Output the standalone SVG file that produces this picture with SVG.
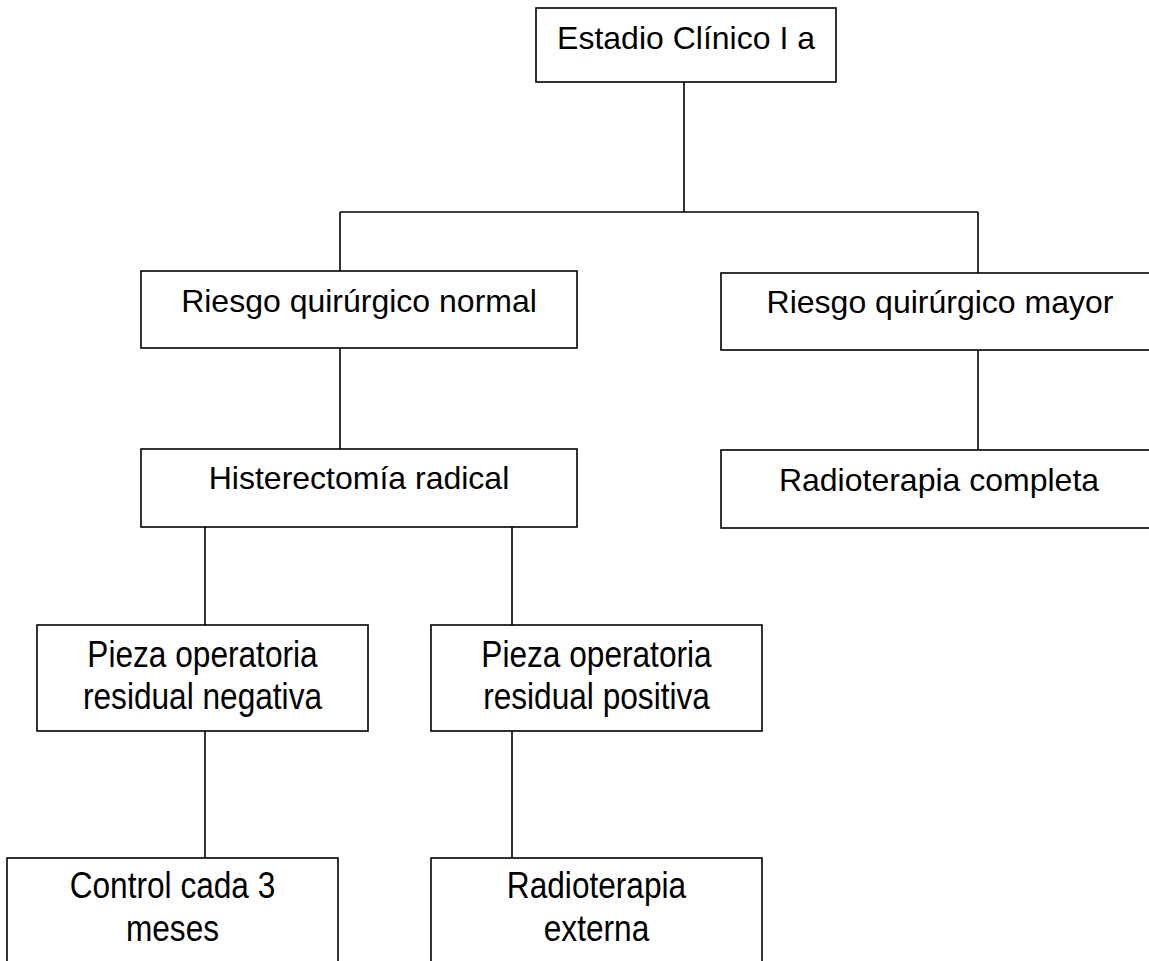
<svg xmlns="http://www.w3.org/2000/svg" width="1149" height="961" viewBox="0 0 1149 961">
<style>
.box{fill:#fff;stroke:#000;stroke-width:1.6}
.t{font-family:"Liberation Sans",Arial,sans-serif;font-size:32px;fill:#000;text-anchor:middle}
.n{font-family:"Liberation Sans",Arial,sans-serif;font-size:37px;fill:#000;text-anchor:middle}
.c{stroke:#000;stroke-width:1.6;fill:none}
</style>
<rect width="1149" height="961" fill="#fff"/>
<g id="connectors">
<path class="c" d="M684 82V212M340 212H978M340 212V271M978 212V273M340 348V449M978 350V450M205 527V625M512 527V625M205 731V858M512 731V858"/>
</g>
<g id="estadio">
<rect class="box" x="536" y="8" width="300" height="74"/>
<text class="t" x="686" y="49">Estadio Clínico I a</text>
</g>
<g id="riesgo-normal">
<rect class="box" x="141" y="271" width="436" height="77"/>
<text class="t" x="359" y="312">Riesgo quirúrgico normal</text>
</g>
<g id="riesgo-mayor">
<rect class="box" x="721" y="273" width="440" height="77"/>
<text class="t" x="940" y="313">Riesgo quirúrgico mayor</text>
</g>
<g id="histerectomia">
<rect class="box" x="141" y="449" width="436" height="78"/>
<text class="t" x="359" y="489">Histerectomía radical</text>
</g>
<g id="radioterapia-completa">
<rect class="box" x="721" y="450" width="440" height="78"/>
<text class="t" x="939" y="491">Radioterapia completa</text>
</g>
<g id="pieza-negativa">
<rect class="box" x="37" y="625" width="331" height="106"/>
<text class="n" transform="translate(202.5 667) scale(0.855 1)">Pieza operatoria</text>
<text class="n" transform="translate(202.5 709) scale(0.855 1)">residual negativa</text>
</g>
<g id="pieza-positiva">
<rect class="box" x="431" y="625" width="331" height="106"/>
<text class="n" transform="translate(596.5 667) scale(0.855 1)">Pieza operatoria</text>
<text class="n" transform="translate(596.5 709) scale(0.855 1)">residual positiva</text>
</g>
<g id="control">
<rect class="box" x="7" y="858" width="331" height="120"/>
<text class="n" transform="translate(172.5 898) scale(0.855 1)">Control cada 3</text>
<text class="n" transform="translate(172.5 941) scale(0.855 1)">meses</text>
</g>
<g id="radioterapia-externa">
<rect class="box" x="431" y="858" width="331" height="120"/>
<text class="n" transform="translate(596.5 898) scale(0.855 1)">Radioterapia</text>
<text class="n" transform="translate(596.5 941) scale(0.855 1)">externa</text>
</g>
</svg>
